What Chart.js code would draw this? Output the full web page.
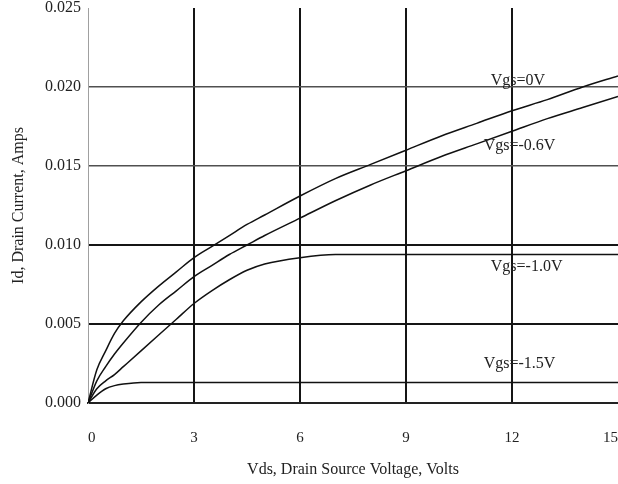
<!DOCTYPE html>
<html>
<head>
<meta charset="utf-8">
<script src="https://cdn.jsdelivr.net/npm/chart.js@4/dist/chart.umd.min.js"></script>
<style>
  html, body { margin: 0; padding: 0; background: #fff; }
  canvas { display: block; }
</style>
</head>
<body>
<canvas id="c" width="618" height="484"></canvas>
<script>
// ---- Data ----
const vds      = [0, 0.25, 0.5, 0.75, 1, 1.5, 2, 2.5, 3, 3.5, 4, 4.5, 5, 6, 7, 8, 9, 10, 11, 12, 13, 14, 15];
const idVgs0   = [0, 0.0021, 0.0033, 0.0044, 0.0052, 0.0064, 0.0074, 0.0083, 0.0092, 0.0099, 0.0106, 0.0113, 0.0119, 0.0131, 0.0142, 0.0151, 0.0160, 0.0169, 0.0177, 0.0185, 0.0192, 0.0200, 0.0207];
const idVgs06  = [0, 0.0014, 0.0023, 0.0031, 0.0038, 0.0051, 0.0062, 0.0071, 0.0080, 0.0087, 0.0094, 0.0100, 0.0106, 0.0117, 0.0128, 0.0138, 0.0147, 0.0156, 0.0164, 0.0172, 0.0180, 0.0187, 0.0194];
const idVgs10  = [0, 0.0009, 0.0014, 0.0018, 0.0023, 0.0033, 0.0043, 0.0053, 0.0063, 0.0071, 0.0078, 0.0084, 0.0088, 0.0092, 0.0094, 0.0094, 0.0094, 0.0094, 0.0094, 0.0094, 0.0094, 0.0094, 0.0094];
const idVgs15  = [0, 0.0005, 0.0009, 0.0011, 0.0012, 0.0013, 0.0013, 0.0013, 0.0013, 0.0013, 0.0013, 0.0013, 0.0013, 0.0013, 0.0013, 0.0013, 0.0013, 0.0013, 0.0013, 0.0013, 0.0013, 0.0013, 0.0013];
const seriesNames = ['Vgs=0V', 'Vgs=-0.6V', 'Vgs=-1.0V', 'Vgs=-1.5V'];
const xTicks = [0, 3, 6, 9, 12, 15];
const yTicks = [0, 0.005, 0.010, 0.015, 0.020, 0.025];
const xTitle = 'Vds, Drain Source Voltage, Volts';
const yTitle = 'Id, Drain Current, Amps';

// label anchors in data units (Vds, Id)
const labelAnchorX = [11.4, 11.2, 11.4, 11.2];
const labelAnchorY = [0.0204, 0.0163, 0.00865, 0.00245];

const SERIF = '"Liberation Serif", "DejaVu Serif", serif';
const toPts = arr => vds.map((v, i) => ({ x: v, y: arr[i] }));

const curveLabelPlugin = {
  id: 'curveLabels',
  afterDatasetsDraw(chart) {
    const { ctx, scales: { x, y } } = chart;
    ctx.save();
    ctx.font = '16px ' + SERIF;
    ctx.fillStyle = '#222';
    ctx.textAlign = 'left';
    ctx.textBaseline = 'middle';
    seriesNames.forEach((name, i) => {
      ctx.fillText(name, x.getPixelForValue(labelAnchorX[i]), y.getPixelForValue(labelAnchorY[i]));
    });
    ctx.restore();
  }
};

const lineStyle = {
  borderColor: '#111',
  borderWidth: 1.5,
  pointRadius: 0,
  fill: false,
  cubicInterpolationMode: 'monotone'
};

new Chart(document.getElementById('c'), {
  type: 'line',
  data: {
    datasets: [
      Object.assign({ label: seriesNames[0], data: toPts(idVgs0) }, lineStyle),
      Object.assign({ label: seriesNames[1], data: toPts(idVgs06) }, lineStyle),
      Object.assign({ label: seriesNames[2], data: toPts(idVgs10) }, lineStyle),
      Object.assign({ label: seriesNames[3], data: toPts(idVgs15) }, lineStyle)
    ]
  },
  options: {
    responsive: false,
    animation: false,
    layout: { padding: 0 },
    plugins: {
      legend: { display: false },
      tooltip: { enabled: false }
    },
    scales: {
      x: {
        type: 'linear',
        min: 0,
        max: 15,
        afterBuildTicks: s => { s.ticks = xTicks.map(v => ({ value: v })); },
        afterFit: s => { s.height = 81; s.paddingLeft = 0; s.paddingRight = 0; },
        grid: {
          drawTicks: false,
          color: c => c.tick.value === 0 ? '#a0a0a0' : (c.tick.value === 15 ? 'rgba(0,0,0,0)' : '#151515'),
          lineWidth: c => c.tick.value === 0 ? 1 : 2
        },
        border: { color: '#222', width: 2 },
        ticks: {
          align: 'inner',
          padding: 26,
          color: '#222',
          font: { family: SERIF, size: 15 },
          callback: v => String(v)
        },
        title: {
          display: true,
          text: xTitle,
          color: '#222',
          font: { family: SERIF, size: 16 },
          padding: { top: 0, bottom: 4.4 }
        }
      },
      y: {
        type: 'linear',
        min: 0,
        max: 0.025,
        afterBuildTicks: s => { s.ticks = yTicks.map(v => ({ value: v })); },
        afterFit: s => { s.width = 88; s.paddingTop = 8; s.paddingBottom = 0; },
        grid: {
          drawTicks: false,
          color: c => {
            const v = Math.round(c.tick.value * 1000);
            if (v === 25) return 'rgba(0,0,0,0)';
            if (v === 20 || v === 15) return '#505050';
            return '#151515';
          },
          lineWidth: c => {
            const v = Math.round(c.tick.value * 1000);
            return (v === 20 || v === 15) ? 1.5 : 2;
          }
        },
        border: { color: '#a0a0a0', width: 1 },
        ticks: {
          padding: 7,
          color: '#222',
          font: { family: SERIF, size: 16, lineHeight: 0.75 },
          callback: v => Number(v).toFixed(3)
        },
        title: {
          display: true,
          text: yTitle,
          color: '#222',
          font: { family: SERIF, size: 16 },
          padding: { top: 9.4, bottom: 0 }
        }
      }
    }
  },
  plugins: [curveLabelPlugin]
});
</script>
</body>
</html>
